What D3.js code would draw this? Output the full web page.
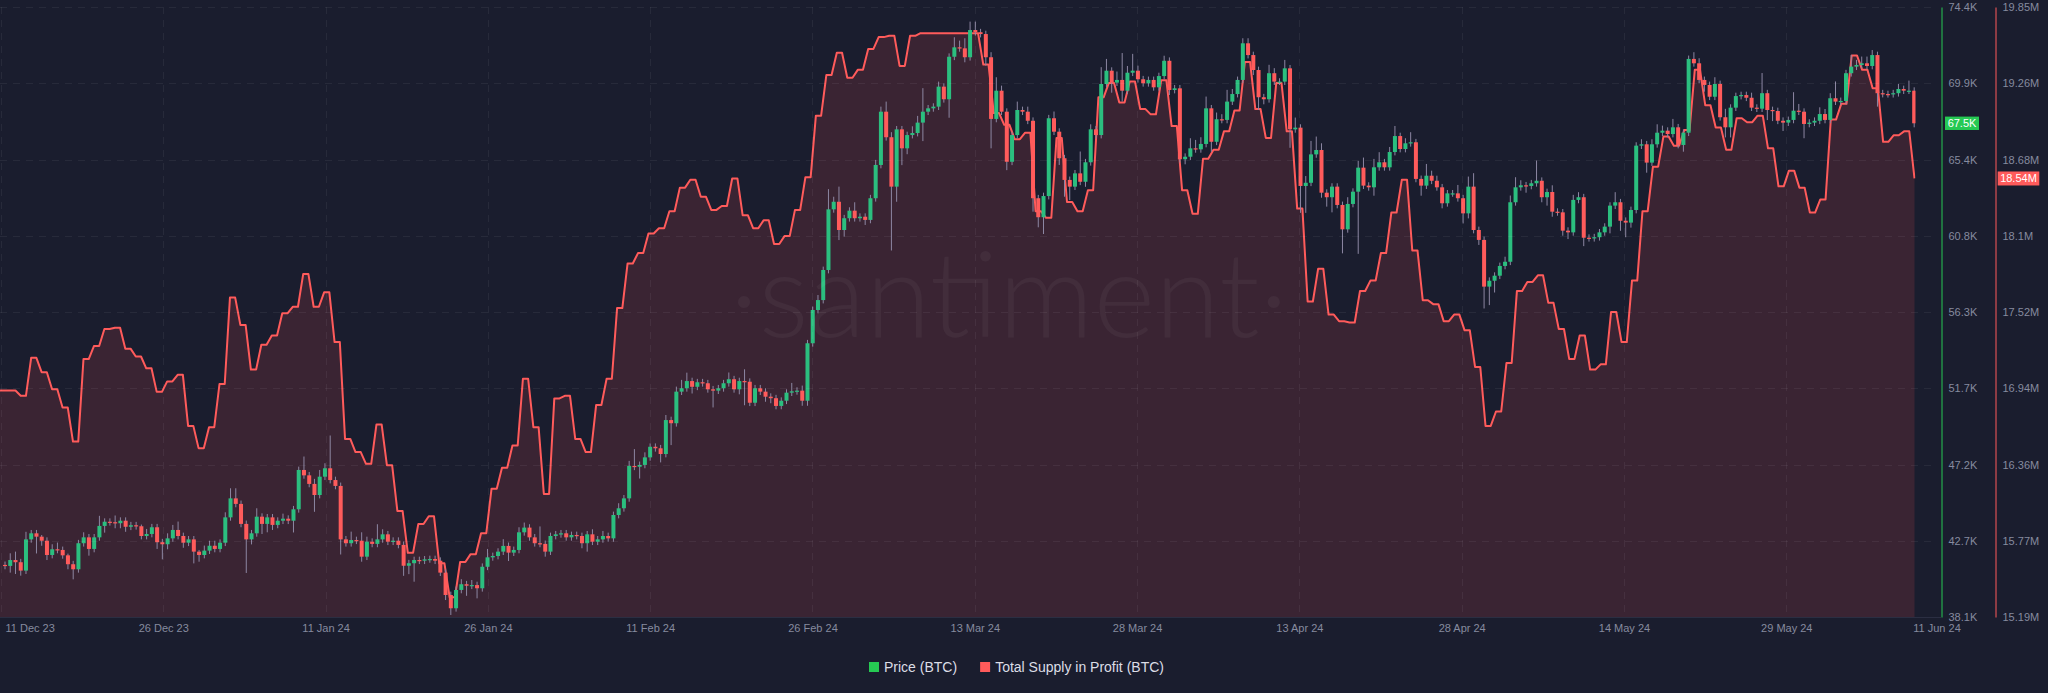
<!DOCTYPE html>
<html><head><meta charset="utf-8">
<script src="https://cdn.jsdelivr.net/npm/d3@7"></script>
<style>
html,body{margin:0;padding:0;background:#1a1d2e;}
svg{display:block;font-family:"Liberation Sans",Arial,sans-serif;}
</style></head><body>
<svg id="chart" width="2048" height="693"></svg>
<script>
// ---------- DATA ----------
// 12h candles, closes in thousands of USD (open = previous close)
const firstOpen = 41.2;
const closes = [
41.14,41.49,41.36,40.86,42.72,43.08,42.88,42.64,41.79,42.13,
42.09,41.77,41.24,40.94,42.49,42.84,42.15,42.84,43.52,43.77,
43.74,43.68,43.83,43.47,43.56,43.50,42.92,43.04,43.44,42.55,
42.43,42.78,43.28,42.92,42.52,42.72,41.99,41.79,42.05,42.34,
42.15,42.52,44.03,45.16,44.83,43.64,42.72,43.08,44.07,43.64,
44.03,43.58,43.83,43.95,43.83,44.51,46.85,46.53,46.02,45.36,
46.45,46.95,46.25,45.90,42.72,42.49,42.68,42.64,41.69,42.58,
42.45,42.72,43.02,42.58,42.64,42.39,41.15,41.30,41.49,41.45,
41.53,41.55,41.45,40.74,39.41,38.62,39.71,40.05,39.96,40.00,
39.81,41.09,41.65,41.73,41.99,42.33,41.93,42.09,43.14,43.42,
42.84,42.49,42.45,41.99,42.92,43.02,43.08,42.84,42.98,42.92,
42.49,43.02,42.58,42.72,42.92,42.78,44.17,44.57,45.16,47.09,
47.04,47.15,47.60,48.23,48.14,47.80,49.82,49.63,51.51,51.71,
52.14,51.80,52.07,52.01,51.65,51.57,51.71,52.01,52.25,51.65,
52.14,52.10,50.85,51.71,51.51,51.21,51.12,50.66,50.97,51.45,
51.53,51.57,50.97,54.39,56.37,56.96,58.75,62.36,62.81,61.13,
61.83,62.28,61.83,61.92,61.73,63.02,65.00,68.17,66.65,63.71,
67.12,65.99,66.78,66.90,67.52,68.17,68.37,68.47,69.66,68.91,
71.44,72.00,71.94,71.41,73.03,72.90,72.79,71.41,67.74,69.42,
68.17,65.19,66.78,68.27,68.17,67.63,63.02,61.89,63.15,67.78,
66.98,65.40,64.11,63.71,64.50,64.00,65.16,67.12,66.78,69.82,
70.61,69.90,70.06,69.42,70.49,70.61,70.10,69.86,70.06,69.62,
70.29,71.20,69.46,69.56,65.34,65.49,65.99,65.93,66.25,68.37,
66.38,67.72,67.68,68.77,69.22,70.06,72.24,71.54,70.65,69.03,
68.91,70.46,69.96,69.96,70.75,67.12,67.22,63.75,63.94,65.63,
65.89,63.35,63.08,63.71,62.62,61.17,62.68,63.41,64.84,63.77,
63.67,64.86,65.16,64.86,65.77,66.72,65.95,66.29,66.35,64.17,
63.77,64.36,64.06,63.67,62.72,63.31,63.31,63.02,62.12,63.71,
61.13,60.54,57.76,58.11,58.41,58.99,59.24,62.78,63.67,63.79,
63.75,63.91,64.06,63.08,63.39,62.22,62.18,61.09,60.99,62.92,
63.08,60.67,60.64,60.70,60.99,61.33,62.58,62.78,61.68,61.57,
62.32,66.15,66.23,65.14,66.23,66.92,67.04,66.84,67.24,66.19,
66.92,71.31,71.05,70.06,69.76,69.06,69.82,67.84,67.24,68.41,
69.10,69.16,69.00,68.41,68.35,69.27,68.27,68.21,67.63,67.52,
67.68,68.23,68.17,67.44,67.52,67.63,68.03,67.68,68.97,68.77,
68.81,70.46,70.85,70.95,71.05,70.89,71.54,69.27,69.22,69.21,
69.27,69.52,69.42,69.42,67.48
];
// wick length above the body top / below the body bottom (thousands USD)
const upperWicks = [
0.2,0.4,0.5,0.2,0.45,0.2,0.2,0.1,0.2,0.3,
0.4,0.2,0.1,0.2,0.2,0.3,0.2,0.2,0.6,0.2,
0.2,0.4,0.2,0.2,0.2,0.2,0.1,0.3,0.2,0.2,
0.2,0.3,0.3,0.5,0.2,0.2,0.2,0.1,0.3,0.3,
0.3,0.2,0.3,0.6,0.6,0.2,0.2,0.2,0.5,0.2,
0.2,0.2,0.2,0.3,0.2,0.2,0.2,0.8,0.2,0.3,
0.4,0.3,1.95,0.2,0.2,0.2,0.5,0.2,0.5,0.3,
0.2,0.9,0.3,0.2,0.2,0.2,0.2,0.2,0.2,0.2,
0.2,0.2,0.2,0.2,0.2,0.2,0.2,0.3,0.2,0.3,
0.2,0.2,0.5,0.2,0.2,0.4,0.2,0.2,0.3,0.3,
0.2,0.2,1.0,0.2,0.2,0.2,0.2,0.2,0.2,0.2,
0.2,0.2,0.3,0.2,0.3,0.2,0.2,0.3,0.2,0.3,
1.0,0.2,0.3,0.2,0.2,0.2,0.3,0.2,0.3,0.5,
0.5,0.2,0.2,0.2,0.2,0.2,0.2,0.2,0.4,0.2,
0.2,0.7,0.2,0.2,0.2,0.2,0.2,0.2,0.2,0.2,
0.5,0.2,0.3,0.2,0.2,0.3,0.2,1.2,0.3,0.9,
0.2,0.2,0.5,0.2,0.2,0.2,0.3,0.3,0.6,0.3,
0.2,0.2,0.2,0.4,0.4,1.4,0.2,0.2,0.3,0.2,
0.2,0.6,0.4,0.6,0.5,0.5,0.2,0.2,0.3,0.8,
0.3,0.2,0.2,0.5,0.2,0.3,0.2,0.2,0.2,0.2,
0.4,0.2,0.2,0.2,0.2,1.3,0.2,0.3,0.2,1.0,
0.7,0.2,0.5,1.6,0.4,1.0,0.3,0.2,0.2,0.2,
0.2,0.3,0.2,0.2,0.2,0.2,0.6,0.5,0.4,0.7,
0.2,0.4,0.3,0.7,0.3,0.2,0.3,0.3,0.2,0.2,
0.2,0.5,0.3,0.2,0.5,0.2,0.6,0.2,0.4,0.8,
0.8,0.4,0.2,0.2,0.2,0.2,0.4,0.2,0.4,0.6,
0.2,0.5,0.6,0.2,0.3,0.6,0.2,0.3,0.6,0.2,
0.2,0.7,0.3,0.3,0.2,0.2,0.2,0.5,0.2,0.6,
0.8,0.2,0.2,0.2,0.2,0.2,0.3,0.4,0.6,0.3,
0.2,0.2,1.2,0.2,0.2,0.4,0.2,0.2,0.2,0.3,
0.3,0.2,0.2,0.2,0.2,0.2,0.2,0.6,0.2,0.2,
0.2,0.2,0.3,0.2,0.3,0.5,0.3,0.2,0.5,0.2,
0.2,0.2,0.4,0.3,0.2,0.2,0.4,0.2,0.5,0.2,
0.2,0.2,0.2,0.3,0.2,1.2,0.2,0.2,0.2,0.2,
0.2,1.1,0.4,0.2,0.2,0.2,0.4,0.3,0.3,1.0,
0.2,0.2,0.7,0.3,0.4,0.4,0.3,0.2,0.2,0.2,
0.2,0.3,0.2,0.6,0.2
];
const lowerWicks = [
0.2,0.4,0.7,0.3,0.2,0.2,1.0,0.3,0.3,0.2,
0.2,0.2,0.3,0.6,0.2,0.2,0.4,0.2,0.2,0.4,
0.2,0.3,0.3,0.3,0.2,0.2,0.2,0.2,0.2,0.4,
0.9,0.3,0.2,0.2,0.3,0.2,0.7,0.4,0.2,0.2,
0.2,0.2,0.2,0.2,0.2,0.2,2.0,0.3,0.2,0.6,
0.5,0.3,0.2,0.2,0.2,0.7,0.2,0.2,0.2,1.0,
0.2,0.2,0.2,0.2,0.9,0.2,0.2,0.2,0.3,0.2,
0.2,0.2,0.2,0.2,0.2,0.2,0.6,0.5,1.1,0.2,
0.2,0.2,0.2,0.2,0.3,0.4,0.2,0.2,0.6,0.2,
0.6,0.2,0.2,0.2,0.2,0.2,0.5,0.2,0.2,0.2,
0.2,0.2,0.2,0.3,0.2,0.2,0.2,0.2,0.2,0.2,
0.3,0.5,0.2,0.2,0.2,0.2,0.2,0.2,0.2,0.2,
0.2,0.7,0.2,0.2,0.2,0.5,0.2,1.3,0.2,0.2,
0.2,0.4,0.2,0.2,0.2,1.0,0.2,0.2,0.2,0.2,
0.3,1.4,0.2,0.2,0.2,0.3,0.3,0.2,0.2,0.2,
0.2,0.2,0.3,0.3,0.2,0.2,0.2,0.2,0.2,0.6,
0.4,0.2,0.2,0.2,0.3,0.2,0.2,0.2,0.2,3.8,
0.9,1.0,0.35,0.2,0.2,1.1,0.2,0.2,0.2,0.2,
1.1,0.2,0.2,0.3,0.2,0.2,0.2,0.5,1.75,0.2,
0.2,0.5,0.2,0.2,0.2,0.2,0.8,0.6,1.0,0.2,
0.2,0.4,1.0,0.8,0.2,0.2,0.3,0.2,0.2,0.2,
0.2,0.6,0.2,0.65,0.2,0.2,0.2,0.2,0.2,0.2,
0.2,0.2,0.3,0.2,0.2,0.3,0.2,0.2,0.2,0.2,
0.6,0.2,0.2,0.2,0.2,0.2,0.2,0.2,0.3,0.76,
0.3,0.2,0.2,0.2,0.2,1.1,0.2,1.6,1.6,0.2,
0.2,0.3,0.56,0.9,0.2,1.43,0.2,0.2,3.7,0.2,
0.2,0.5,0.2,0.2,0.2,0.2,0.2,0.2,0.2,0.2,
0.6,0.2,0.2,0.2,0.3,0.2,0.2,0.2,0.6,0.3,
0.2,0.3,1.3,1.1,0.7,0.2,0.2,0.2,0.2,0.2,
0.4,0.2,0.2,0.3,0.5,0.3,0.2,0.3,0.4,0.2,
0.2,0.5,0.2,0.2,0.2,0.2,0.4,0.2,0.6,0.87,
0.3,0.2,0.2,0.6,0.2,0.2,0.2,0.2,0.2,0.2,
0.4,0.2,0.2,0.2,0.4,0.2,0.2,0.2,0.6,0.6,
0.2,0.2,0.2,0.2,0.2,0.2,0.6,0.6,0.2,0.5,
0.2,0.2,0.2,0.85,0.2,0.2,0.2,0.2,0.2,0.2,
0.2,0.2,0.2,0.2,0.2,0.2,0.2,0.8,0.2,0.2,
0.2,0.2,0.2,0.2,0.24
];
// Total supply in profit, daily values in millions of BTC
const supplyDaily = [
16.92,16.92,16.88,17.17,17.06,16.93,16.79,16.53,17.16,17.26,
17.39,17.40,17.24,17.18,17.09,16.91,16.99,17.04,16.65,16.48,
16.64,16.97,17.63,17.42,17.08,17.27,17.34,17.51,17.56,17.81,
17.56,17.67,17.29,16.55,16.45,16.36,16.66,16.35,16.00,15.68,
15.90,15.96,15.60,15.34,15.61,15.67,15.83,16.17,16.33,16.50,
17.01,16.64,16.13,16.86,16.88,16.55,16.45,16.81,17.01,17.55,
17.89,17.97,18.12,18.16,18.29,18.47,18.53,18.40,18.30,18.33,
18.54,18.26,18.16,18.22,18.04,18.10,18.30,18.55,19.02,19.33,
19.50,19.31,19.37,19.53,19.62,19.63,19.40,19.63,19.65,19.65,
19.65,19.65,19.65,19.65,19.41,19.04,18.95,18.84,18.89,18.29,
18.24,18.85,18.36,18.29,18.45,19.16,19.27,19.12,19.28,19.07,
19.03,19.29,18.94,18.45,18.27,18.69,18.76,18.90,19.06,19.43,
19.07,18.85,19.27,18.90,18.31,17.60,17.85,17.50,17.45,17.44,
17.68,17.76,17.97,18.28,18.53,17.99,17.61,17.58,17.45,17.50,
17.38,17.10,16.65,16.76,17.13,17.68,17.75,17.80,17.59,17.39,
17.16,17.34,17.08,17.12,17.52,17.29,17.76,18.29,18.63,18.86,
18.79,18.91,19.37,19.10,18.93,18.76,19.00,18.97,19.02,18.77,
18.48,18.60,18.47,18.28,18.38,18.99,19.11,19.48,19.37,19.23,
18.82,18.87,18.90,18.54
];
const priceTickLabels = ["38.1K","42.7K","47.2K","51.7K","56.3K","60.8K","65.4K","69.9K","74.4K"];
const supplyTickLabels = ["15.19M","15.77M","16.36M","16.94M","17.52M","18.1M","18.68M","19.26M","19.85M"];
const dateTickLabels = ["11 Dec 23","26 Dec 23","11 Jan 24","26 Jan 24","11 Feb 24","26 Feb 24","13 Mar 24","28 Mar 24","13 Apr 24","28 Apr 24","14 May 24","29 May 24"];
const lastDateLabel = "11 Jun 24";
const priceDomain = [38.1, 74.4];
const supplyDomain = [15.19, 19.85];
const legendItems = [
  {label: "Price (BTC)", color: "#26c953"},
  {label: "Total Supply in Profit (BTC)", color: "#ff5b5b"}
];

// ---------- LAYOUT ----------
const HOUR = 3600e3, DAY = 24*HOUR;
const t0 = Date.UTC(2023, 11, 11);
const plotTop = 7, plotBottom = 617, plotRightEdge = 1915.5;
const pxPerDay = 10.49;
const GREEN = "#2bbf7f", RED = "#ff5b5b", WICK = "#8d87a3";

const svg = d3.select("#chart");
const x = d3.scaleUtc()
  .domain([new Date(t0), new Date(t0 + 183*DAY)])
  .range([2.38, 2.38 + 183*pxPerDay]);
const yP = d3.scaleLinear().domain(priceDomain).range([plotBottom, plotTop]);
const yS = d3.scaleLinear().domain(supplyDomain).range([plotBottom, plotTop]);
// supply is drawn as 12h slots (each daily value held for two slots)
const xS = d3.scaleLinear().domain([0, 366]).range([-0.23, 1914.5]);

svg.append("rect").attr("width", 2048).attr("height", 693).attr("fill", "#1a1d2e");

const defs = svg.append("defs");
defs.append("clipPath").attr("id", "plotclip").append("rect")
  .attr("x", 0).attr("y", 0).attr("width", plotRightEdge).attr("height", plotBottom);

// supply points
const supplyPts = [];
supplyDaily.forEach((v, d) => {
  supplyPts.push([2*d, v]);
  if (d < supplyDaily.length - 1) supplyPts.push([2*d + 1, v]);
});

const plot = svg.append("g").attr("clip-path", "url(#plotclip)");

// area
plot.append("path")
  .datum(supplyPts)
  .attr("d", d3.area().x(p => xS(p[0])).y0(plotBottom).y1(p => yS(p[1])))
  .attr("fill", "#3a2433");

// watermark
svg.append("text")
  .attr("x", 1009).attr("y", 337)
  .attr("text-anchor", "middle")
  .attr("font-family", "Lato, 'Open Sans', sans-serif")
  .attr("font-weight", 300)
  .attr("font-size", 118)
  .attr("fill", "#ffffff").attr("fill-opacity", 0.045)
  .text("\u00B7santiment\u00B7");

// grid
const tickStepDays = 162.3 / pxPerDay;
const tickTimes = dateTickLabels.map((_, k) => new Date(t0 + k*tickStepDays*DAY - 3.2*HOUR));
const grid = svg.append("g");
tickTimes.forEach(t => {
  grid.append("line").attr("x1", Math.round(x(t)) + 0.5).attr("x2", Math.round(x(t)) + 0.5)
    .attr("y1", plotTop).attr("y2", plotBottom)
    .attr("stroke", "#ffffff").attr("stroke-opacity", 0.06).attr("stroke-dasharray", "7,6");
});
const pTickVals = priceTickLabels.map((_, k) => priceDomain[0] + k*(priceDomain[1]-priceDomain[0])/(priceTickLabels.length-1));
const sTickVals = supplyTickLabels.map((_, k) => supplyDomain[0] + k*(supplyDomain[1]-supplyDomain[0])/(supplyTickLabels.length-1));
pTickVals.slice(1).forEach(v => {
  grid.append("line").attr("x1", 0).attr("x2", 1936)
    .attr("y1", Math.round(yP(v)) + 0.5).attr("y2", Math.round(yP(v)) + 0.5)
    .attr("stroke", "#ffffff").attr("stroke-opacity", 0.06).attr("stroke-dasharray", "7,6");
});

// supply line
plot.append("path")
  .datum(supplyPts)
  .attr("d", d3.line().x(p => xS(p[0])).y(p => yS(p[1])))
  .attr("fill", "none").attr("stroke", RED).attr("stroke-width", 2).attr("stroke-linejoin", "round");

// candles
const candles = closes.map((c, i) => {
  const o = i === 0 ? firstOpen : closes[i-1];
  return {t: new Date(t0 + i*12*HOUR + 6*HOUR), o, c,
          h: Math.max(o, c) + upperWicks[i], l: Math.min(o, c) - lowerWicks[i]};
});
const cg = plot.append("g");
cg.selectAll("line.wick").data(candles).join("line").attr("class", "wick")
  .attr("x1", d => x(d.t)).attr("x2", d => x(d.t))
  .attr("y1", d => yP(d.h)).attr("y2", d => yP(d.l))
  .attr("stroke", WICK).attr("stroke-width", 1);
cg.selectAll("rect.body").data(candles).join("rect").attr("class", "body")
  .attr("x", d => x(d.t) - 2).attr("width", 4)
  .attr("y", d => yP(Math.max(d.o, d.c)))
  .attr("height", d => Math.max(1.2, Math.abs(yP(d.o) - yP(d.c))))
  .attr("fill", d => d.c >= d.o ? GREEN : RED);

// x axis baseline
svg.append("line").attr("x1", 0).attr("x2", 1941).attr("y1", plotBottom + 0.5).attr("y2", plotBottom + 0.5)
  .attr("stroke", "#2b2e42").attr("stroke-width", 1);

// x axis
const xAxis = svg.append("g").attr("transform", `translate(0,${plotBottom})`)
  .call(d3.axisBottom(x).tickValues(tickTimes).tickFormat((d, i) => dateTickLabels[i]).tickSize(0).tickPadding(7));
xAxis.select(".domain").remove();
xAxis.selectAll("text").attr("fill", "#868b9f").attr("font-size", 11)
  .attr("font-family", "'Liberation Sans', Arial, sans-serif");
xAxis.selectAll(".tick").filter((d, i) => i === 0).select("text").attr("text-anchor", "start").attr("dx", 4);
svg.append("text").attr("x", x(new Date(t0 + 183*DAY)) + 15).attr("y", plotBottom + 7).attr("dy", "0.71em")
  .attr("text-anchor", "middle").attr("fill", "#868b9f").attr("font-size", 11).text(lastDateLabel);

// price axis
const pAxis = svg.append("g").attr("transform", `translate(1941.5,0)`)
  .call(d3.axisRight(yP).tickValues(pTickVals).tickFormat((d, i) => priceTickLabels[i]).tickSize(0).tickSizeOuter(0).tickPadding(7));
pAxis.select(".domain").attr("stroke", "#26c953").attr("stroke-width", 1);
pAxis.selectAll("text").attr("fill", "#868b9f").attr("font-size", 11)
  .attr("font-family", "'Liberation Sans', Arial, sans-serif");

// supply axis
const sAxis = svg.append("g").attr("transform", `translate(1995.5,0)`)
  .call(d3.axisRight(yS).tickValues(sTickVals).tickFormat((d, i) => supplyTickLabels[i]).tickSize(0).tickSizeOuter(0).tickPadding(7));
sAxis.select(".domain").attr("stroke", RED).attr("stroke-width", 1);
sAxis.selectAll("text").attr("fill", "#868b9f").attr("font-size", 11)
  .attr("font-family", "'Liberation Sans', Arial, sans-serif");

// current value badges
const lastClose = closes[closes.length - 1];
const lastSupply = supplyDaily[supplyDaily.length - 1];
const pb = svg.append("g").attr("transform", `translate(1945,${yP(lastClose) - 6.7})`);
pb.append("rect").attr("width", 34).attr("height", 13.4).attr("fill", "#26c953");
pb.append("text").attr("x", 17).attr("y", 6.7).attr("dy", "0.35em").attr("text-anchor", "middle")
  .attr("fill", "#ffffff").attr("font-size", 11).text(lastClose.toFixed(1) + "K");
const sb = svg.append("g").attr("transform", `translate(1997.7,${yS(lastSupply) - 7})`);
sb.append("rect").attr("width", 41.6).attr("height", 14).attr("fill", RED);
sb.append("text").attr("x", 20.8).attr("y", 7).attr("dy", "0.35em").attr("text-anchor", "middle")
  .attr("fill", "#ffffff").attr("font-size", 11).text(lastSupply.toFixed(2) + "M");

// legend
const lg = svg.append("g").attr("font-size", 14).attr("font-family", "'Liberation Sans', Arial, sans-serif");
let lx = 869;
legendItems.forEach(item => {
  lg.append("rect").attr("x", lx).attr("y", 662).attr("width", 10).attr("height", 10).attr("fill", item.color);
  const t = lg.append("text").attr("x", lx + 15).attr("y", 667).attr("dy", "0.35em")
    .attr("fill", "#dcdde6").text(item.label);
  lx += 15 + t.node().getComputedTextLength() + 23;
});
</script>
</body></html>
